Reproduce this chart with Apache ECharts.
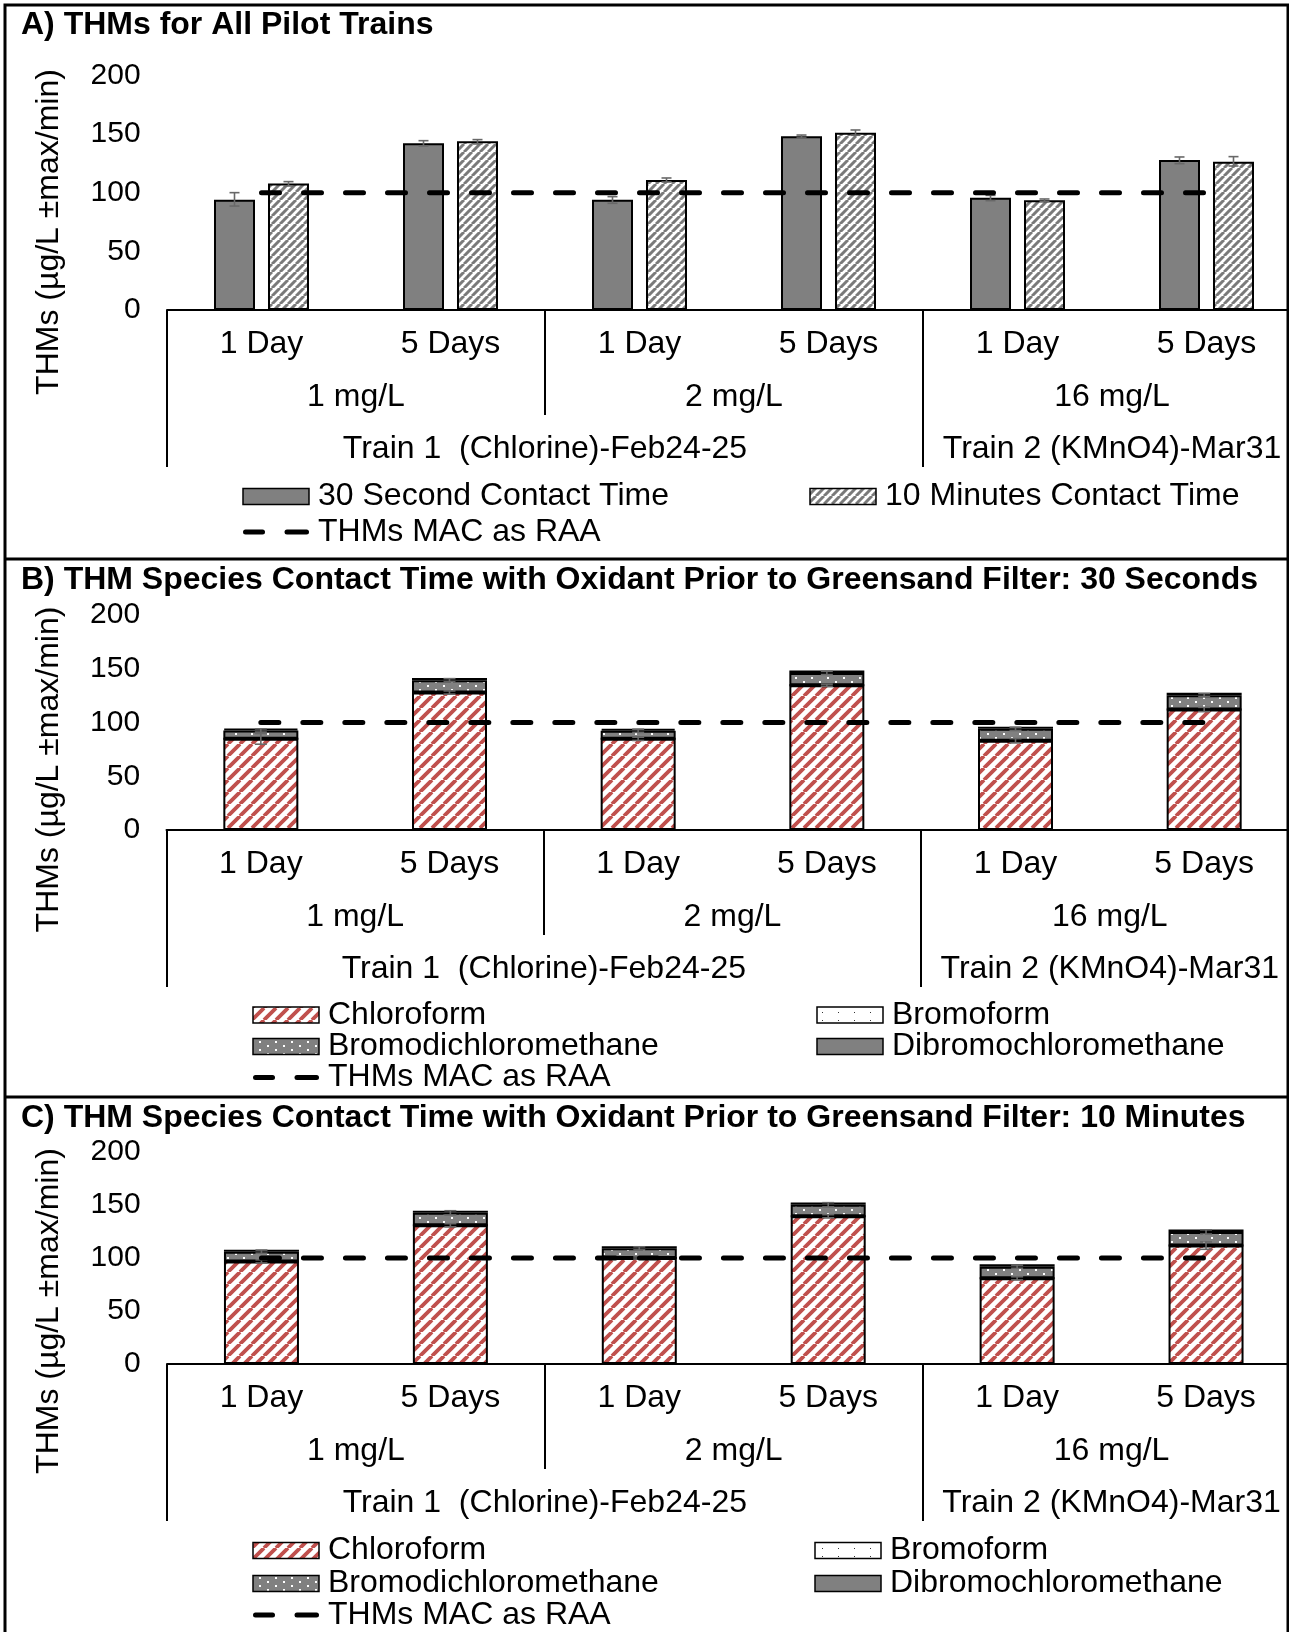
<!DOCTYPE html>
<html>
<head>
<meta charset="utf-8">
<script src="https://cdn.jsdelivr.net/npm/echarts@6/dist/echarts.min.js"></script>
<style>
html, body { margin: 0; padding: 0; background: #fff; }
#chart { width: 1289px; height: 1632px; }
</style>
</head>
<body>
<div id="chart"></div>
<script>
// ---- Multi-level category axis ----
const dayLabels = ['1 Day', '5 Days', '1 Day', '5 Days', '1 Day', '5 Days'];
const doseLabels = ['1 mg/L', '2 mg/L', '16 mg/L'];
const trainLabels = ['Train 1  (Chlorine)-Feb24-25', 'Train 2 (KMnO4)-Mar31'];
const trainDoseCount = [2, 1];            // dose groups belonging to each train
const yTickLabels = [0, 50, 100, 150, 200];
const macLimit = 100;                      // THMs MAC as RAA (µg/L)

// ---- A) total THMs, mean with min / max ----
const thm30s    = [94.0, 142.0, 94.0, 148.0, 95.7, 127.8];
const thm30sMin = [88.6, 139.8, 90.9, 146.6, 93.2, 124.7];
const thm30sMax = [100.0, 144.3, 96.6, 149.1, 97.7, 130.4];
const thm10m    = [107.7, 143.8, 110.8, 151.1, 93.5, 126.4];
const thm10mMin = [105.7, 141.5, 109.1, 148.9, 92.3, 122.7];
const thm10mMax = [109.4, 145.2, 112.5, 153.4, 94.6, 130.7];

// ---- B) THM species, 30 s contact time ----
const chloroform30s    = [84.8, 127.9, 84.8, 134.7, 83.0, 112.1];
const bromoform30s     = [0, 0, 0, 0, 0, 0];
const bdcm30s          = [7.8, 11.4, 7.5, 11.4, 11.1, 13.3];
const dbcm30s          = [1.6, 2.0, 1.8, 2.2, 1.9, 2.2];
const chloroformErr30s = [5.0, 1.5, 1.5, 1.0, 2.0, 2.0];
const bdcmErr30s       = [1.5, 1.5, 1.5, 1.5, 1.5, 1.5];

// ---- C) THM species, 10 min contact time ----
const chloroform10m    = [96.8, 130.9, 100.0, 139.4, 80.8, 111.7];
const bromoform10m     = [0, 0, 0, 0, 0, 0];
const bdcm10m          = [9.2, 11.7, 9.1, 10.8, 11.0, 12.9];
const dbcm10m          = [1.9, 1.9, 1.9, 2.2, 2.2, 2.2];
const chloroformErr10m = [1.5, 1.5, 1.0, 1.5, 1.5, 3.5];
const bdcmErr10m       = [1.5, 2.0, 1.5, 2.0, 1.5, 2.0];

// ---- styling ----
const FONT = '"Liberation Sans", Arial, Helvetica, sans-serif';
const TXT = 32;
const GRAY = '#808080';
const ERR = '#686868';

function hatch(size, color, lw) {
  const c = document.createElement('canvas');
  c.width = c.height = size;
  const g = c.getContext('2d');
  g.fillStyle = '#fff';
  g.fillRect(0, 0, size, size);
  g.strokeStyle = color;
  g.lineWidth = lw;
  g.beginPath();
  for (let k = -1; k <= 1; k++) {
    g.moveTo(k * size, size);
    g.lineTo(k * size + size, 0);
  }
  g.stroke();
  return { image: c, repeat: 'repeat' };
}
function dots(w, h, bg, fg, pts, d) {
  const c = document.createElement('canvas');
  c.width = w; c.height = h;
  const g = c.getContext('2d');
  g.fillStyle = bg;
  g.fillRect(0, 0, w, h);
  g.fillStyle = fg;
  pts.forEach(p => g.fillRect(p[0], p[1], d, d));
  return { image: c, repeat: 'repeat' };
}
const grayHatch = hatch(8, '#7a7a7a', 3);
const redHatch = hatch(12, '#C0504D', 3.8);
const bdcmFill = dots(16, 8, GRAY, '#fff', [[3, 1], [11, 5]], 2);
const bromoFill = dots(16, 8, '#fff', '#333', [[6, 4]], 1);

// ---- panel layout (pixels) ----
const panels = [
  { left: 167, width: 1134, top: 75.3, height: 234.7, titleY: 25, nameY: 232,
    title: 'A) THMs for All Pilot Trains' },
  { left: 166.5, width: 1132, top: 615, height: 215, titleY: 580, nameY: 769.5,
    title: 'B) THM Species Contact Time with Oxidant Prior to Greensand Filter: 30 Seconds' },
  { left: 167, width: 1133.5, top: 1152, height: 212, titleY: 1118, nameY: 1311,
    title: 'C) THM Species Contact Time with Oxidant Prior to Greensand Filter: 10 Minutes' }
];

// level-3 label positions (in day-category units) and train boundaries (dose index)
const daysPerDose = dayLabels.length / doseLabels.length;
const trainCenters = {};
const trainStarts = [];
let acc = 0;
trainLabels.forEach((t, i) => {
  trainStarts.push(acc);
  trainCenters[(acc + trainDoseCount[i] / 2) * daysPerDose] = t;
  acc += trainDoseCount[i];
});

const labelBase = { color: '#000', fontSize: TXT, fontFamily: FONT, verticalAlign: 'middle' };
const blackLine = { color: '#000', width: 2 };

const grid = [], xAxis = [], yAxis = [], series = [];

panels.forEach((p, k) => {
  grid.push({ left: p.left, width: p.width, top: p.top, height: p.height,
    containLabel: false, outerBoundsMode: 'none' });
  xAxis.push(
    { gridIndex: k, type: 'category', data: dayLabels, position: 'bottom', offset: 0,
      axisLine: { show: true, lineStyle: blackLine }, axisTick: { show: false },
      axisLabel: Object.assign({ interval: 0, margin: 34.5 }, labelBase), splitLine: { show: false } },
    { gridIndex: k, type: 'category', data: doseLabels, position: 'bottom', offset: 0,
      axisLine: { show: false },
      axisTick: { show: true, interval: 0, length: 105, lineStyle: blackLine },
      axisLabel: Object.assign({ interval: 0, margin: 87 }, labelBase), splitLine: { show: false } },
    { gridIndex: k, type: 'category', data: doseLabels, position: 'bottom', offset: 0,
      axisLine: { show: false },
      axisTick: { show: true, length: 157, lineStyle: blackLine, interval: i => trainStarts.includes(i) },
      axisLabel: { show: false }, splitLine: { show: false } },
    { gridIndex: k, type: 'value', min: 0, max: dayLabels.length, interval: 1, position: 'bottom', offset: 0,
      axisLine: { show: false }, axisTick: { show: false }, splitLine: { show: false },
      axisLabel: Object.assign({ margin: 139, showMinLabel: true, showMaxLabel: true,
        formatter: v => trainCenters[v] || '' }, labelBase) }
  );
  yAxis.push({
    gridIndex: k, type: 'value', min: yTickLabels[0], max: yTickLabels[yTickLabels.length - 1],
    interval: yTickLabels[1] - yTickLabels[0],
    axisLine: { show: false }, axisTick: { show: false }, splitLine: { show: false },
    axisLabel: { color: '#000', fontSize: 30, fontFamily: FONT, margin: 26.4 }
  });
});

function errorBars(name, k, lows, highs, offset, cap) {
  return {
    type: 'custom', name: name, xAxisIndex: 4 * k, yAxisIndex: k, z: 5, silent: true,
    data: lows.map((lo, i) => [i, lo, highs[i]]),
    encode: { x: 0, y: [1, 2] },
    renderItem: (params, api) => {
      const lo = api.coord([api.value(0), api.value(1)]);
      const hi = api.coord([api.value(0), api.value(2)]);
      const x = lo[0] + offset;
      const st = { stroke: ERR, lineWidth: 1.6 };
      return { type: 'group', children: [
        { type: 'line', shape: { x1: x, y1: lo[1], x2: x, y2: hi[1] }, style: st },
        { type: 'line', shape: { x1: x - cap / 2, y1: lo[1], x2: x + cap / 2, y2: lo[1] }, style: st },
        { type: 'line', shape: { x1: x - cap / 2, y1: hi[1], x2: x + cap / 2, y2: hi[1] }, style: st }
      ] };
    }
  };
}
function macLine(k) {
  return {
    type: 'line', name: 'THMs MAC as RAA', xAxisIndex: 4 * k, yAxisIndex: k, z: 6,
    data: dayLabels.map(() => macLimit), symbol: 'none', silent: true,
    lineStyle: { color: '#000', width: 5, type: [18, 24], cap: 'round' }
  };
}
const barBorder = { borderColor: '#000', borderWidth: 2 };

// Panel A: grouped bars
series.push(
  { type: 'bar', name: '30 Second Contact Time', xAxisIndex: 0, yAxisIndex: 0, data: thm30s,
    barWidth: 41, barGap: '31.7%', itemStyle: Object.assign({ color: GRAY }, barBorder) },
  { type: 'bar', name: '10 Minutes Contact Time', xAxisIndex: 0, yAxisIndex: 0, data: thm10m,
    barWidth: 41, barGap: '31.7%', itemStyle: Object.assign({ color: grayHatch }, barBorder) },
  errorBars('err30s', 0, thm30sMin, thm30sMax, -27, 10),
  errorBars('err10m', 0, thm10mMin, thm10mMax, 27, 10),
  macLine(0)
);

// Panels B and C: stacked species
function speciesPanel(k, chl, bro, bdcm, dbcm, chlErr, bdcmErr) {
  const st = 'species' + k;
  const mk = (name, data, color) => ({
    type: 'bar', name: name, stack: st, xAxisIndex: 4 * k, yAxisIndex: k, data: data,
    barWidth: 75, itemStyle: Object.assign({ color: color }, barBorder)
  });
  const bdcmTop = chl.map((v, i) => v + bro[i] + bdcm[i]);
  series.push(
    mk('Chloroform', chl, redHatch),
    mk('Bromoform', bro, bromoFill),
    mk('Bromodichloromethane', bdcm, bdcmFill),
    mk('Dibromochloromethane', dbcm, GRAY),
    errorBars('errChl' + k, k, chl.map((v, i) => v - chlErr[i]), chl.map((v, i) => v + chlErr[i]), 0, 12),
    errorBars('errBdcm' + k, k, bdcmTop.map((v, i) => v - bdcmErr[i]), bdcmTop.map((v, i) => v + bdcmErr[i]), 0, 12),
    macLine(k)
  );
}
speciesPanel(1, chloroform30s, bromoform30s, bdcm30s, dbcm30s, chloroformErr30s, bdcmErr30s);
speciesPanel(2, chloroform10m, bromoform10m, bdcm10m, dbcm10m, chloroformErr10m, bdcmErr10m);

// ---- frame, titles, axis names, legends ----
const graphic = [];
graphic.push({ type: 'rect', shape: { x: 5, y: 5, width: 1283, height: 1640 },
  style: { fill: 'none', stroke: '#000', lineWidth: 3 }, z: 10 });
[559, 1097].forEach(y => graphic.push({ type: 'line', shape: { x1: 5, y1: y, x2: 1288, y2: y },
  style: { stroke: '#000', lineWidth: 3 }, z: 10 }));

panels.forEach(p => {
  graphic.push({ type: 'text', x: 21, y: p.titleY,
    style: { text: p.title, font: 'bold ' + TXT + 'px ' + FONT, fill: '#000', align: 'left', verticalAlign: 'middle' } });
  graphic.push({ type: 'text', x: 49, y: p.nameY, rotation: Math.PI / 2,
    style: { text: 'THMs (µg/L ±max/min)', font: TXT + 'px ' + FONT, fill: '#000', align: 'center', verticalAlign: 'middle' } });
});

function swatch(x, y, fill, label) {
  graphic.push({ type: 'rect', shape: { x: x, y: y - 8, width: 66, height: 16 },
    style: { fill: fill, stroke: '#000', lineWidth: 1.5 } });
  graphic.push({ type: 'text', x: x + 75, y: y,
    style: { text: label, font: TXT + 'px ' + FONT, fill: '#000', align: 'left', verticalAlign: 'middle' } });
}
function dashKey(x, y, label) {
  [[x + 2.5, x + 19.5], [x + 44, x + 63.5]].forEach(s => graphic.push({ type: 'line',
    shape: { x1: s[0], y1: y, x2: s[1], y2: y }, style: { stroke: '#000', lineWidth: 5, lineCap: 'round' } }));
  graphic.push({ type: 'text', x: x + 75, y: y,
    style: { text: label, font: TXT + 'px ' + FONT, fill: '#000', align: 'left', verticalAlign: 'middle' } });
}
// legend A
swatch(243, 496.6, GRAY, '30 Second Contact Time');
swatch(810, 496.6, grayHatch, '10 Minutes Contact Time');
dashKey(243, 532, 'THMs MAC as RAA');
// legend B
swatch(253, 1015, redHatch, 'Chloroform');
swatch(817, 1015, bromoFill, 'Bromoform');
swatch(253, 1046.5, bdcmFill, 'Bromodichloromethane');
swatch(817, 1046.5, GRAY, 'Dibromochloromethane');
dashKey(253, 1077.5, 'THMs MAC as RAA');
// legend C
swatch(253, 1550.5, redHatch, 'Chloroform');
swatch(815, 1550.5, bromoFill, 'Bromoform');
swatch(253, 1583.5, bdcmFill, 'Bromodichloromethane');
swatch(815, 1583.5, GRAY, 'Dibromochloromethane');
dashKey(253, 1615, 'THMs MAC as RAA');

const chart = echarts.init(document.getElementById('chart'), null, { renderer: 'canvas' });
chart.setOption({
  animation: false,
  backgroundColor: '#fff',
  textStyle: { fontFamily: FONT, color: '#000' },
  grid: grid,
  xAxis: xAxis,
  yAxis: yAxis,
  series: series,
  graphic: graphic
});
</script>
</body>
</html>
